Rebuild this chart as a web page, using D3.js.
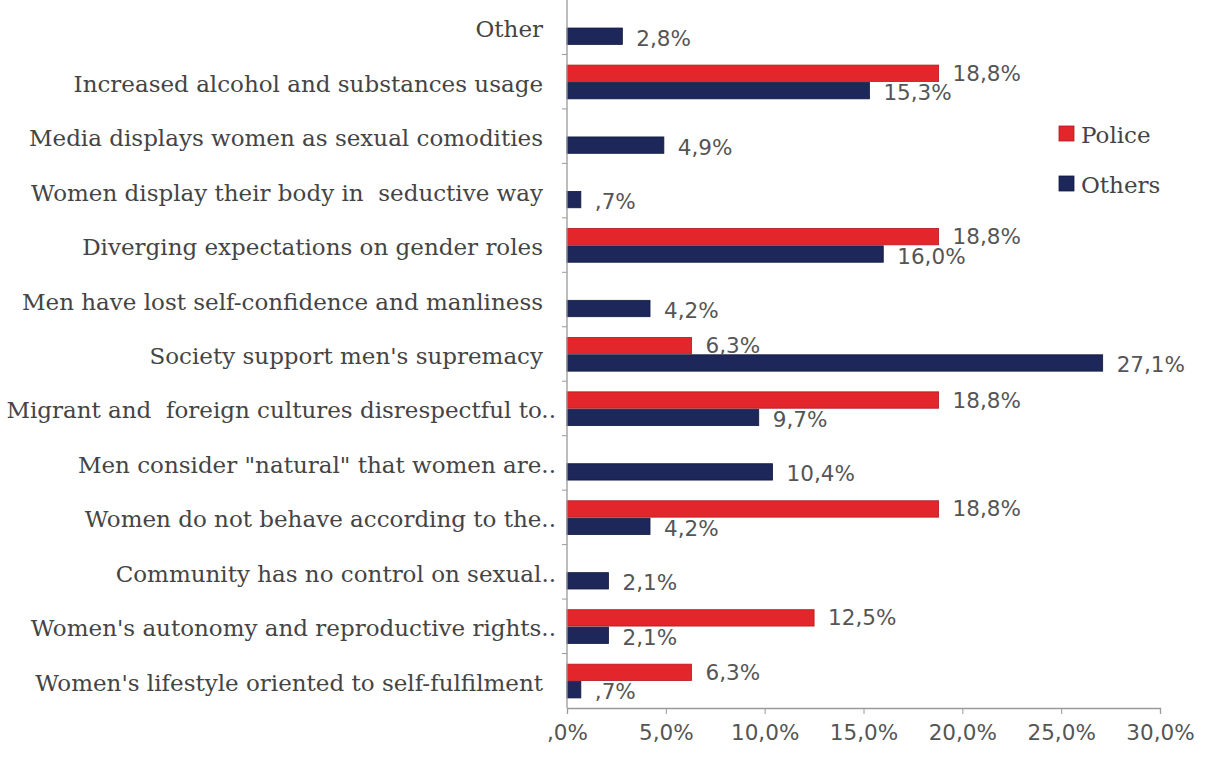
<!DOCTYPE html>
<html>
<head>
<meta charset="utf-8">
<script src="https://cdn.jsdelivr.net/npm/d3@7"></script>
<style>
  html, body { margin: 0; padding: 0; background: #fff; }
  svg { display: block; }
</style>
</head>
<body>
<svg id="chart" width="1206" height="758"></svg>
<script>
// Perceived causes of violence against women, by respondent group (%)
const categories = [
  "Other",
  "Increased alcohol and substances usage",
  "Media displays women as sexual comodities",
  "Women display their body in  seductive way",
  "Diverging expectations on gender roles",
  "Men have lost self-confidence and manliness",
  "Society support men's supremacy",
  "Migrant and  foreign cultures disrespectful to..",
  "Men consider \"natural\" that women are..",
  "Women do not behave according to the..",
  "Community has no control on sexual..",
  "Women's autonomy and reproductive rights..",
  "Women's lifestyle oriented to self-fulfilment"
];
const seriesNames = ["Police", "Others"];
const policeValues = [null, 18.8, null, null, 18.8, null, 6.3, 18.8, null, 18.8, null, 12.5, 6.3];
const othersValues = [2.8, 15.3, 4.9, 0.7, 16.0, 4.2, 27.1, 9.7, 10.4, 4.2, 2.1, 2.1, 0.7];
const xTickValues = [0, 5, 10, 15, 20, 25, 30];

const colors = { Police: "#e3262b", Others: "#1d2759" };
const strokes = { Police: "#b01a1e", Others: "#111a40" };

const svg = d3.select("#chart");
const plotLeft = 567, plotRight = 1160, plotTop = 0, plotBottom = 708;

const x = d3.scaleLinear().domain([0, 30]).range([plotLeft, plotRight]);
const y = d3.scaleBand().domain(categories).range([plotTop, plotBottom]);
const ySub = d3.scaleBand().domain(seriesNames)
  .range([y.bandwidth() * 0.195, y.bandwidth() * 0.815]).paddingInner(0.06);

// Comma decimal, leading zero dropped (",7%")
const locale = d3.formatLocale({ decimal: ",", thousands: ".", grouping: [3], currency: ["", ""] });
const f1 = locale.format(".1f");
const pct = v => f1(v).replace(/^0(?=,)/, "") + "%";

const rows = categories.map((c, i) => ({
  cat: c,
  values: [
    { key: "Police", v: policeValues[i] },
    { key: "Others", v: othersValues[i] }
  ].filter(d => d.v != null)
}));

// Bars
const g = svg.append("g").selectAll("g.row").data(rows).join("g")
  .attr("transform", d => `translate(0,${y(d.cat)})`);

g.selectAll("rect").data(d => d.values).join("rect")
  .attr("x", x(0))
  .attr("y", d => ySub(d.key))
  .attr("width", d => x(d.v) - x(0))
  .attr("height", ySub.bandwidth())
  .attr("fill", d => colors[d.key])
  .attr("stroke", d => strokes[d.key])
  .attr("stroke-width", 0.8);

// Value labels
g.selectAll("text.val").data(d => d.values).join("text")
  .attr("class", "val")
  .attr("x", d => x(d.v) + 14)
  .attr("y", d => ySub(d.key) + ySub.bandwidth() / 2 + (d.key === "Others" ? 2 : 0))
  .attr("dominant-baseline", "central")
  .attr("font-family", "DejaVu Sans, sans-serif")
  .attr("font-size", 21.5)
  .attr("fill", "#555")
  .text(d => pct(d.v));

// Y axis
const yAxis = svg.append("g").attr("transform", `translate(${plotLeft},0)`);
yAxis.append("line").attr("x1", 0).attr("x2", 0).attr("y1", plotTop).attr("y2", plotBottom)
  .attr("stroke", "#9a9a9a").attr("stroke-width", 1.3);
yAxis.selectAll("line.tk").data(categories.slice(1)).join("line")
  .attr("class", "tk")
  .attr("x1", -5).attr("x2", 0)
  .attr("y1", d => y(d)).attr("y2", d => y(d))
  .attr("stroke", "#9a9a9a");

// Category labels
svg.append("g").selectAll("text").data(categories).join("text")
  .attr("x", d => d.endsWith("..") ? 556 : 543)
  .attr("y", d => y(d) + y.bandwidth() / 2 + 2)
  .attr("text-anchor", "end")
  .attr("dominant-baseline", "central")
  .attr("font-family", "DejaVu Serif, serif")
  .attr("font-size", 23)
  .attr("fill", "#444")
  .style("white-space", "pre")
  .text(d => d);

// X axis
const xAxis = svg.append("g").attr("transform", `translate(0,${plotBottom})`)
  .call(d3.axisBottom(x).tickValues(xTickValues).tickSize(6).tickFormat(pct));
xAxis.select(".domain").attr("stroke", "#9a9a9a").attr("stroke-width", 1.3);
xAxis.selectAll(".tick line").attr("stroke", "#9a9a9a");
xAxis.selectAll(".tick text")
  .attr("y", 17)
  .attr("font-family", "DejaVu Sans, sans-serif")
  .attr("font-size", 21.5)
  .attr("fill", "#555");

// Legend
const legend = svg.append("g").attr("transform", "translate(1059,126)");
const li = legend.selectAll("g").data(seriesNames).join("g")
  .attr("transform", (d, i) => `translate(0,${i * 50})`);
li.append("rect").attr("width", 15).attr("height", 15)
  .attr("fill", d => colors[d]).attr("stroke", d => strokes[d]).attr("stroke-width", 0.8);
li.append("text").attr("x", 22).attr("y", 8.5).attr("dominant-baseline", "central")
  .attr("font-family", "DejaVu Serif, serif").attr("font-size", 23).attr("fill", "#444")
  .text(d => d);
</script>
</body>
</html>
